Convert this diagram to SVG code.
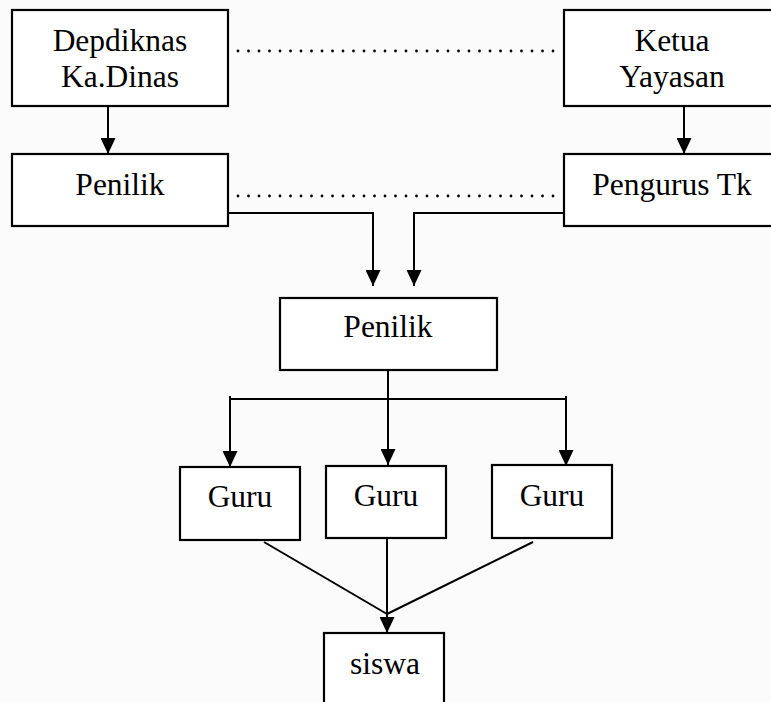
<svg xmlns="http://www.w3.org/2000/svg" width="771" height="702" viewBox="0 0 771 702">
<style>
.box{fill:#ffffff;stroke:#000;stroke-width:2.2}
.t{font-size:31.5px;fill:#000;text-anchor:middle}
.ln{fill:none;stroke:#000;stroke-width:2}
.dot{fill:none;stroke:#000;stroke-width:2.8;stroke-linecap:round;stroke-dasharray:0 10.5}
</style>
<defs>
<marker id="ah" markerUnits="userSpaceOnUse" viewBox="0 0 16 15" refX="16" refY="7.5" markerWidth="16" markerHeight="15" orient="auto">
<path d="M0,0 L16,7.5 L0,15 z" fill="#000"/>
</marker>
</defs>
<rect x="0" y="0" width="771" height="702" fill="#fbfbfb"/>
<g id="connectors">
<path class="dot" d="M238,51 H560"/>
<path class="dot" d="M238,196 H560"/>
<path class="ln" d="M108,106 V154" marker-end="url(#ah)"/>
<path class="ln" d="M684,106 V154" marker-end="url(#ah)"/>
<path class="ln" d="M229,213 H373 V286" marker-end="url(#ah)"/>
<path class="ln" d="M564,213 H414 V286" marker-end="url(#ah)"/>
<path class="ln" d="M388,370 V399"/>
<path class="ln" d="M230,399 H567"/>
<path class="ln" d="M230,396 V467" marker-end="url(#ah)"/>
<path class="ln" d="M388,399 V465" marker-end="url(#ah)"/>
<path class="ln" d="M566,396 V466" marker-end="url(#ah)"/>
<path class="ln" d="M264,542 L387,614"/>
<path class="ln" d="M533,542 L387,614"/>
<path class="ln" d="M387,538 V633" marker-end="url(#ah)"/>
</g>
<g font-family="'Liberation Serif', Tinos, 'Times New Roman', 'DejaVu Serif', serif">
<g id="depdiknas">
<rect class="box" x="12" y="10" width="216" height="96"/>
<text class="t" x="120" y="51">Depdiknas</text>
<text class="t" x="120" y="87">Ka.Dinas</text>
</g>
<g id="ketua">
<rect class="box" x="564" y="10" width="216" height="96"/>
<text class="t" x="672" y="51">Ketua</text>
<text class="t" x="672" y="87">Yayasan</text>
</g>
<g id="penilik1">
<rect class="box" x="12" y="154" width="216" height="72"/>
<text class="t" x="120" y="195">Penilik</text>
</g>
<g id="pengurus">
<rect class="box" x="564" y="154" width="216" height="72"/>
<text class="t" x="672" y="195">Pengurus Tk</text>
</g>
<g id="penilik2">
<rect class="box" x="280" y="298" width="217" height="72"/>
<text class="t" x="388" y="337">Penilik</text>
</g>
<g id="guru1">
<rect class="box" x="180" y="467" width="120" height="73"/>
<text class="t" x="240" y="507">Guru</text>
</g>
<g id="guru2">
<rect class="box" x="326" y="466" width="120" height="72"/>
<text class="t" x="386" y="506">Guru</text>
</g>
<g id="guru3">
<rect class="box" x="492" y="465" width="120" height="73"/>
<text class="t" x="552" y="506">Guru</text>
</g>
<g id="siswa">
<rect class="box" x="324" y="633" width="120" height="80"/>
<text class="t" x="385" y="674">siswa</text>
</g>
</g>
</svg>
